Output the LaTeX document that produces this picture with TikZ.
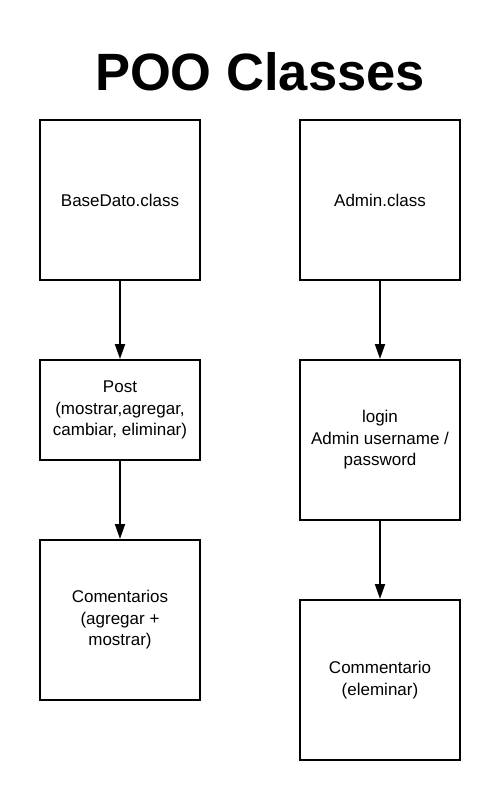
\documentclass[tikz,border=0pt]{standalone}
\usepackage{fontspec}
\setmainfont{Liberation Sans}
\usetikzlibrary{arrows.meta}

\begin{document}
\begin{tikzpicture}[x=1pt,y=-1pt,
  line width=2pt,
  class node/.style={rectangle,draw,line width=2pt,inner sep=0pt,align=center,
    minimum width=160pt,font=\fontsize{17}{21.5}\selectfont},
  big node/.style={class node,minimum height=160pt},
  small node/.style={class node,minimum height=100pt}]

  \useasboundingbox (0,0) rectangle (500,800);

  \node[font=\fontsize{52.5}{60}\selectfont\bfseries] (title) at (260,72) {POO Classes};

  \node[big node] (0) at (120,200) {BaseDato.class};
  \node[small node] (1) at (120,410) {Post\\(mostrar,agregar,\\cambiar, eliminar)};
  \node[big node] (2) at (120,620) {Comentarios\\(agregar +\\mostrar)};
  \node[big node] (3) at (380,200) {Admin.class};
  \node[big node] (4) at (380,440) {login\\Admin username /\\password};
  \node[big node] (5) at (380,680) {Commentario\\(eleminar)};

  \path[-{Triangle[width=10pt,length=15pt]}]
    (0) edge (1)
    (1) edge (2)
    (3) edge (4)
    (4) edge (5);
\end{tikzpicture}
\end{document}
